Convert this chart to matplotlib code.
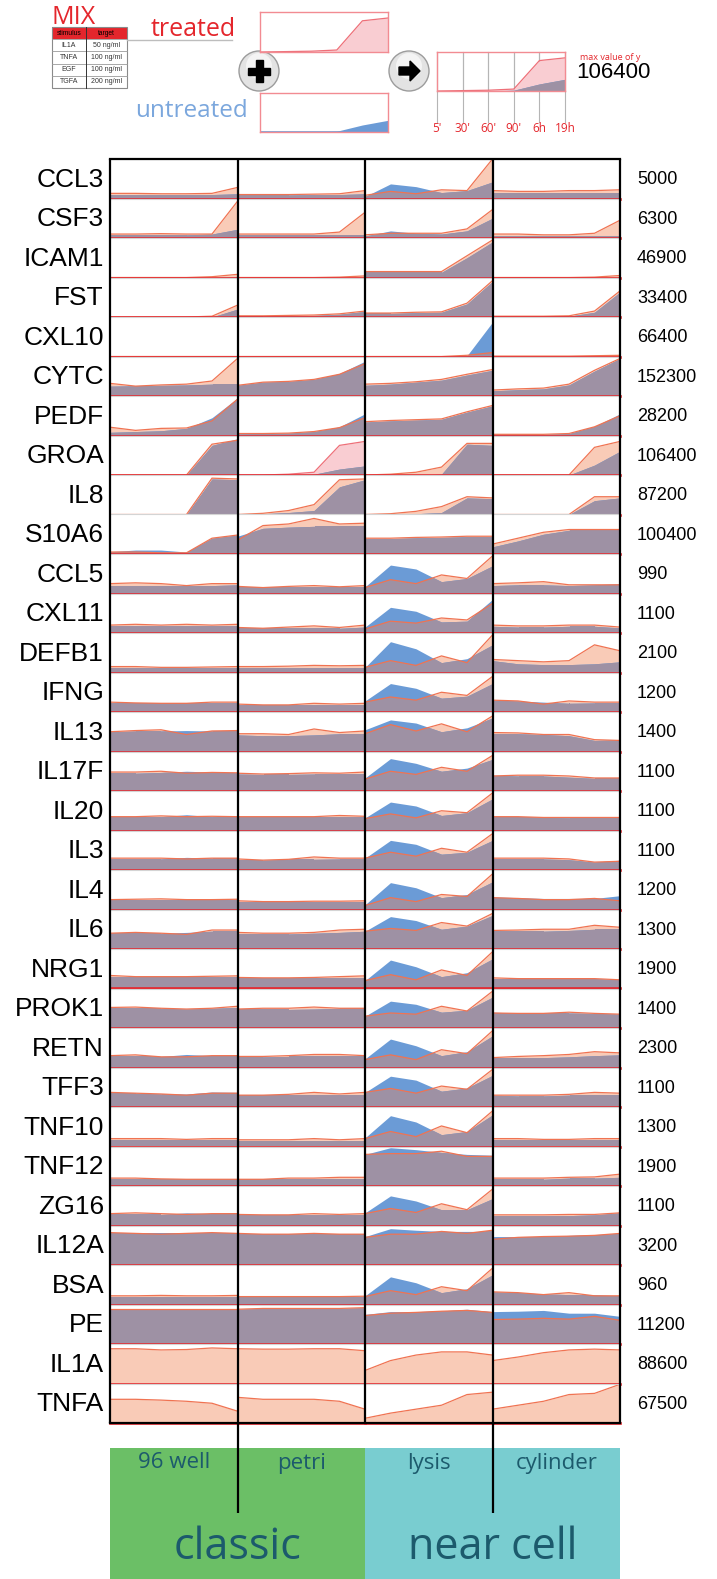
import matplotlib.pyplot as plt
import numpy as np
from matplotlib.patches import Polygon, Rectangle, Circle

W, H = 717, 1579

genes = ["CCL3", "CSF3", "ICAM1", "FST", "CXL10", "CYTC", "PEDF", "GROA", "IL8", "S10A6",
         "CCL5", "CXL11", "DEFB1", "IFNG", "IL13", "IL17F", "IL20", "IL3", "IL4", "IL6",
         "NRG1", "PROK1", "RETN", "TFF3", "TNF10", "TNF12", "ZG16", "IL12A", "BSA", "PE",
         "IL1A", "TNFA"]
max_vals = [5000, 6300, 46900, 33400, 66400, 152300, 28200, 106400, 87200, 100400,
            990, 1100, 2100, 1200, 1400, 1100, 1100, 1100, 1200, 1300,
            1900, 1400, 2300, 1100, 1300, 1900, 1100, 3200, 960, 11200,
            88600, 67500]
times = ["5'", "30'", "60'", "90'", "6h", "19h"]
conditions = ["96 well", "petri", "lysis", "cylinder"]
groups = ["classic", "near cell"]
mix_stimulus = ["IL1A", "TNFA", "EGF", "TGFA"]
mix_target = ["50 ng/ml", "100 ng/ml", "100 ng/ml", "200 ng/ml"]

# values as fraction of each row's max value
treated_96well = [
    [0.13, 0.13, 0.12, 0.12, 0.13, 0.28], [0.10, 0.10, 0.11, 0.10, 0.10, 0.93],
    [0.00, 0.00, 0.00, 0.00, 0.02, 0.08], [0.00, 0.00, 0.00, 0.00, 0.02, 0.30],
    [0.01, 0.01, 0.01, 0.01, 0.01, 0.01], [0.32, 0.25, 0.28, 0.30, 0.38, 0.95],
    [0.21, 0.13, 0.18, 0.19, 0.37, 0.92], [0.00, 0.00, 0.00, 0.00, 0.78, 0.88],
    [0.00, 0.00, 0.00, 0.00, 0.92, 0.90], [0.05, 0.05, 0.03, 0.03, 0.40, 0.48],
    [0.25, 0.27, 0.25, 0.20, 0.25, 0.25], [0.20, 0.22, 0.20, 0.22, 0.20, 0.22],
    [0.15, 0.15, 0.13, 0.13, 0.14, 0.15], [0.25, 0.23, 0.22, 0.22, 0.25, 0.25],
    [0.50, 0.53, 0.55, 0.43, 0.52, 0.53], [0.48, 0.48, 0.50, 0.45, 0.47, 0.46],
    [0.35, 0.35, 0.37, 0.35, 0.36, 0.35], [0.30, 0.30, 0.30, 0.28, 0.30, 0.30],
    [0.25, 0.26, 0.27, 0.25, 0.25, 0.26], [0.40, 0.42, 0.40, 0.37, 0.48, 0.48],
    [0.33, 0.30, 0.30, 0.30, 0.31, 0.32], [0.52, 0.53, 0.50, 0.48, 0.50, 0.55],
    [0.30, 0.32, 0.27, 0.27, 0.30, 0.30], [0.37, 0.35, 0.33, 0.30, 0.35, 0.35],
    [0.20, 0.20, 0.20, 0.18, 0.20, 0.20], [0.20, 0.20, 0.18, 0.17, 0.17, 0.17],
    [0.30, 0.32, 0.30, 0.28, 0.30, 0.30], [0.82, 0.80, 0.78, 0.80, 0.82, 0.80],
    [0.22, 0.22, 0.23, 0.22, 0.22, 0.23], [0.88, 0.88, 0.88, 0.88, 0.88, 0.88],
    [0.88, 0.88, 0.85, 0.86, 0.90, 0.88], [0.60, 0.60, 0.58, 0.55, 0.50, 0.30]]
untreated_96well = [
    [0.10, 0.10, 0.10, 0.10, 0.10, 0.12], [0.08, 0.08, 0.08, 0.08, 0.10, 0.22],
    [0.00, 0.00, 0.00, 0.00, 0.00, 0.02], [0.00, 0.00, 0.00, 0.00, 0.00, 0.20],
    [0.00, 0.00, 0.00, 0.00, 0.00, 0.00], [0.25, 0.26, 0.27, 0.28, 0.30, 0.30],
    [0.08, 0.10, 0.12, 0.18, 0.45, 0.95], [0.00, 0.00, 0.00, 0.00, 0.75, 0.92],
    [0.00, 0.00, 0.00, 0.00, 0.90, 0.88], [0.06, 0.10, 0.10, 0.05, 0.40, 0.48],
    [0.20, 0.20, 0.20, 0.20, 0.20, 0.22], [0.18, 0.18, 0.18, 0.18, 0.18, 0.18],
    [0.12, 0.12, 0.12, 0.12, 0.12, 0.12], [0.22, 0.22, 0.22, 0.22, 0.22, 0.22],
    [0.50, 0.52, 0.52, 0.53, 0.52, 0.52], [0.45, 0.45, 0.47, 0.50, 0.48, 0.46],
    [0.35, 0.35, 0.35, 0.40, 0.35, 0.35], [0.28, 0.28, 0.28, 0.32, 0.30, 0.30],
    [0.24, 0.24, 0.24, 0.24, 0.24, 0.24], [0.40, 0.40, 0.40, 0.42, 0.45, 0.45],
    [0.30, 0.30, 0.30, 0.30, 0.30, 0.30], [0.50, 0.50, 0.50, 0.48, 0.50, 0.52],
    [0.28, 0.28, 0.28, 0.33, 0.30, 0.30], [0.35, 0.35, 0.33, 0.33, 0.38, 0.37],
    [0.17, 0.17, 0.17, 0.17, 0.17, 0.17], [0.17, 0.17, 0.17, 0.17, 0.17, 0.17],
    [0.28, 0.28, 0.28, 0.32, 0.30, 0.32], [0.80, 0.80, 0.80, 0.80, 0.80, 0.80],
    [0.20, 0.20, 0.20, 0.20, 0.20, 0.20], [0.88, 0.88, 0.88, 0.88, 0.88, 0.88],
    [0.00, 0.00, 0.00, 0.00, 0.00, 0.00], [0.00, 0.00, 0.00, 0.00, 0.00, 0.00]]
treated_petri = [
    [0.10, 0.10, 0.10, 0.11, 0.12, 0.20], [0.10, 0.10, 0.10, 0.10, 0.15, 0.65],
    [0.00, 0.00, 0.00, 0.00, 0.01, 0.04], [0.03, 0.03, 0.04, 0.05, 0.08, 0.15],
    [0.01, 0.01, 0.01, 0.01, 0.01, 0.01], [0.27, 0.35, 0.37, 0.42, 0.55, 0.82],
    [0.05, 0.05, 0.06, 0.10, 0.20, 0.45], [0.00, 0.00, 0.02, 0.07, 0.75, 0.85],
    [0.00, 0.03, 0.10, 0.25, 0.88, 0.90], [0.35, 0.72, 0.76, 0.90, 0.76, 0.78],
    [0.18, 0.15, 0.18, 0.20, 0.17, 0.20], [0.14, 0.12, 0.15, 0.18, 0.14, 0.20],
    [0.15, 0.15, 0.16, 0.18, 0.17, 0.18], [0.20, 0.18, 0.18, 0.22, 0.20, 0.22],
    [0.45, 0.45, 0.43, 0.57, 0.48, 0.52], [0.45, 0.43, 0.44, 0.46, 0.45, 0.48],
    [0.35, 0.35, 0.35, 0.35, 0.38, 0.36], [0.28, 0.25, 0.27, 0.33, 0.30, 0.30],
    [0.22, 0.20, 0.20, 0.21, 0.21, 0.22], [0.42, 0.40, 0.40, 0.42, 0.48, 0.50],
    [0.28, 0.27, 0.27, 0.28, 0.30, 0.32], [0.48, 0.50, 0.50, 0.53, 0.50, 0.50],
    [0.28, 0.28, 0.30, 0.33, 0.33, 0.30], [0.30, 0.30, 0.32, 0.37, 0.33, 0.37],
    [0.17, 0.17, 0.17, 0.20, 0.17, 0.20], [0.17, 0.17, 0.20, 0.20, 0.22, 0.22],
    [0.28, 0.27, 0.27, 0.30, 0.28, 0.30], [0.80, 0.78, 0.78, 0.80, 0.78, 0.78],
    [0.20, 0.20, 0.20, 0.20, 0.20, 0.21], [0.88, 0.90, 0.90, 0.90, 0.90, 0.92],
    [0.88, 0.87, 0.87, 0.88, 0.88, 0.83], [0.65, 0.60, 0.60, 0.60, 0.55, 0.35]]
untreated_petri = [
    [0.09, 0.09, 0.09, 0.10, 0.10, 0.12], [0.08, 0.08, 0.08, 0.08, 0.08, 0.08],
    [0.00, 0.00, 0.00, 0.00, 0.00, 0.00], [0.02, 0.02, 0.03, 0.04, 0.07, 0.14],
    [0.00, 0.00, 0.00, 0.00, 0.00, 0.00], [0.27, 0.35, 0.37, 0.42, 0.57, 0.88],
    [0.04, 0.05, 0.06, 0.10, 0.22, 0.55], [0.00, 0.00, 0.00, 0.02, 0.15, 0.23],
    [0.00, 0.02, 0.05, 0.10, 0.70, 0.88], [0.45, 0.65, 0.68, 0.70, 0.70, 0.70],
    [0.17, 0.17, 0.17, 0.17, 0.17, 0.17], [0.12, 0.12, 0.12, 0.12, 0.12, 0.15],
    [0.12, 0.12, 0.12, 0.12, 0.12, 0.12], [0.18, 0.18, 0.18, 0.18, 0.18, 0.18],
    [0.42, 0.40, 0.40, 0.42, 0.45, 0.45], [0.43, 0.42, 0.42, 0.43, 0.43, 0.43],
    [0.33, 0.33, 0.33, 0.33, 0.33, 0.33], [0.25, 0.25, 0.27, 0.27, 0.28, 0.28],
    [0.20, 0.20, 0.20, 0.20, 0.20, 0.20], [0.38, 0.38, 0.38, 0.40, 0.42, 0.45],
    [0.27, 0.27, 0.27, 0.27, 0.27, 0.27], [0.47, 0.47, 0.47, 0.48, 0.50, 0.50],
    [0.27, 0.27, 0.28, 0.28, 0.28, 0.28], [0.30, 0.30, 0.30, 0.30, 0.30, 0.30],
    [0.15, 0.15, 0.15, 0.15, 0.15, 0.15], [0.17, 0.17, 0.17, 0.17, 0.17, 0.17],
    [0.27, 0.27, 0.27, 0.27, 0.27, 0.27], [0.78, 0.78, 0.78, 0.78, 0.78, 0.78],
    [0.20, 0.20, 0.20, 0.20, 0.20, 0.20], [0.88, 0.90, 0.90, 0.90, 0.90, 0.92],
    [0.00, 0.00, 0.00, 0.00, 0.00, 0.00], [0.00, 0.00, 0.00, 0.00, 0.00, 0.00]]
treated_lysis = [
    [0.08, 0.18, 0.12, 0.22, 0.20, 1.00], [0.08, 0.12, 0.12, 0.12, 0.23, 0.72],
    [0.15, 0.15, 0.15, 0.15, 0.55, 0.95], [0.10, 0.10, 0.12, 0.13, 0.35, 0.92],
    [0.00, 0.00, 0.00, 0.00, 0.03, 0.10], [0.30, 0.32, 0.36, 0.42, 0.55, 0.67],
    [0.35, 0.38, 0.40, 0.42, 0.60, 0.76], [0.00, 0.02, 0.07, 0.20, 0.80, 0.80],
    [0.00, 0.02, 0.08, 0.20, 0.45, 0.42], [0.40, 0.40, 0.42, 0.43, 0.45, 0.45],
    [0.15, 0.35, 0.25, 0.47, 0.38, 0.95], [0.10, 0.30, 0.25, 0.38, 0.33, 0.75],
    [0.13, 0.30, 0.18, 0.42, 0.25, 0.95], [0.25, 0.38, 0.30, 0.50, 0.42, 0.90],
    [0.45, 0.68, 0.52, 0.70, 0.50, 0.90], [0.30, 0.50, 0.42, 0.60, 0.50, 0.90],
    [0.30, 0.42, 0.32, 0.50, 0.45, 0.95], [0.30, 0.45, 0.35, 0.55, 0.45, 0.92],
    [0.10, 0.30, 0.20, 0.38, 0.33, 0.90], [0.45, 0.52, 0.47, 0.67, 0.58, 0.90],
    [0.20, 0.35, 0.22, 0.47, 0.33, 0.93], [0.30, 0.38, 0.35, 0.55, 0.43, 0.93],
    [0.20, 0.32, 0.20, 0.45, 0.35, 0.93], [0.37, 0.47, 0.35, 0.53, 0.45, 0.95],
    [0.20, 0.38, 0.25, 0.52, 0.35, 0.90], [0.80, 0.82, 0.82, 0.88, 0.75, 0.75],
    [0.30, 0.43, 0.33, 0.55, 0.40, 0.92], [0.70, 0.78, 0.78, 0.85, 0.80, 0.88],
    [0.20, 0.35, 0.25, 0.45, 0.35, 0.92], [0.72, 0.78, 0.80, 0.83, 0.85, 0.80],
    [0.33, 0.58, 0.72, 0.80, 0.80, 0.72], [0.12, 0.25, 0.35, 0.45, 0.72, 0.78]]
untreated_lysis = [
    [0.05, 0.37, 0.30, 0.15, 0.20, 0.42], [0.05, 0.18, 0.12, 0.10, 0.18, 0.50],
    [0.13, 0.13, 0.13, 0.13, 0.50, 0.90], [0.09, 0.09, 0.11, 0.12, 0.33, 0.90],
    [0.00, 0.00, 0.00, 0.00, 0.02, 0.87], [0.27, 0.30, 0.35, 0.40, 0.53, 0.65],
    [0.34, 0.37, 0.39, 0.41, 0.59, 0.75], [0.00, 0.00, 0.00, 0.02, 0.78, 0.75],
    [0.00, 0.00, 0.02, 0.05, 0.42, 0.40], [0.39, 0.39, 0.41, 0.42, 0.44, 0.44],
    [0.17, 0.72, 0.62, 0.30, 0.38, 0.70], [0.15, 0.65, 0.55, 0.28, 0.30, 0.85],
    [0.13, 0.78, 0.60, 0.25, 0.35, 0.70], [0.28, 0.72, 0.60, 0.35, 0.40, 0.72],
    [0.55, 0.80, 0.72, 0.50, 0.60, 0.85], [0.33, 0.82, 0.70, 0.50, 0.58, 0.80],
    [0.32, 0.72, 0.62, 0.38, 0.45, 0.80], [0.30, 0.75, 0.65, 0.40, 0.45, 0.75],
    [0.12, 0.68, 0.55, 0.30, 0.38, 0.70], [0.45, 0.82, 0.72, 0.50, 0.58, 0.85],
    [0.20, 0.72, 0.55, 0.30, 0.40, 0.75], [0.30, 0.68, 0.60, 0.40, 0.45, 0.78],
    [0.22, 0.72, 0.55, 0.30, 0.40, 0.80], [0.37, 0.78, 0.68, 0.40, 0.48, 0.80],
    [0.22, 0.78, 0.62, 0.30, 0.38, 0.80], [0.80, 0.97, 0.92, 0.85, 0.80, 0.78],
    [0.32, 0.75, 0.62, 0.40, 0.40, 0.68], [0.72, 0.92, 0.88, 0.85, 0.85, 0.85],
    [0.22, 0.70, 0.55, 0.30, 0.40, 0.75], [0.75, 0.82, 0.82, 0.84, 0.88, 0.82],
    [0.00, 0.00, 0.00, 0.00, 0.00, 0.00], [0.00, 0.00, 0.00, 0.00, 0.00, 0.00]]
treated_cylinder = [
    [0.20, 0.18, 0.18, 0.20, 0.20, 0.22], [0.10, 0.10, 0.08, 0.08, 0.12, 0.45],
    [0.00, 0.00, 0.00, 0.00, 0.01, 0.05], [0.02, 0.02, 0.02, 0.03, 0.15, 0.66],
    [0.01, 0.01, 0.01, 0.01, 0.02, 0.03], [0.15, 0.18, 0.20, 0.30, 0.65, 0.95],
    [0.03, 0.03, 0.03, 0.05, 0.22, 0.50], [0.00, 0.00, 0.00, 0.00, 0.70, 0.85],
    [0.00, 0.00, 0.00, 0.00, 0.45, 0.45], [0.25, 0.40, 0.55, 0.62, 0.62, 0.62],
    [0.25, 0.27, 0.30, 0.22, 0.22, 0.22], [0.20, 0.18, 0.18, 0.20, 0.20, 0.15],
    [0.33, 0.30, 0.27, 0.30, 0.70, 0.55], [0.30, 0.28, 0.20, 0.28, 0.25, 0.25],
    [0.48, 0.47, 0.43, 0.43, 0.30, 0.28], [0.38, 0.40, 0.40, 0.38, 0.33, 0.33],
    [0.35, 0.35, 0.33, 0.33, 0.33, 0.33], [0.30, 0.30, 0.30, 0.28, 0.20, 0.22],
    [0.30, 0.28, 0.25, 0.25, 0.28, 0.22], [0.47, 0.48, 0.50, 0.50, 0.60, 0.55],
    [0.27, 0.25, 0.25, 0.25, 0.25, 0.22], [0.38, 0.37, 0.37, 0.40, 0.37, 0.35],
    [0.25, 0.28, 0.30, 0.33, 0.40, 0.37], [0.30, 0.30, 0.30, 0.32, 0.37, 0.35],
    [0.20, 0.20, 0.18, 0.18, 0.20, 0.20], [0.20, 0.20, 0.20, 0.22, 0.23, 0.30],
    [0.27, 0.27, 0.27, 0.28, 0.28, 0.32], [0.65, 0.70, 0.72, 0.73, 0.75, 0.80],
    [0.32, 0.30, 0.25, 0.30, 0.22, 0.22], [0.62, 0.63, 0.65, 0.63, 0.70, 0.60],
    [0.58, 0.67, 0.78, 0.85, 0.87, 0.85], [0.35, 0.45, 0.55, 0.72, 0.75, 0.98]]
untreated_cylinder = [
    [0.15, 0.15, 0.15, 0.15, 0.15, 0.15], [0.06, 0.06, 0.06, 0.06, 0.06, 0.06],
    [0.00, 0.00, 0.00, 0.00, 0.00, 0.00], [0.02, 0.02, 0.02, 0.02, 0.12, 0.63],
    [0.00, 0.00, 0.00, 0.00, 0.00, 0.00], [0.13, 0.16, 0.18, 0.28, 0.63, 0.95],
    [0.03, 0.03, 0.03, 0.05, 0.23, 0.55], [0.00, 0.00, 0.00, 0.00, 0.25, 0.60],
    [0.00, 0.00, 0.00, 0.00, 0.35, 0.42], [0.18, 0.33, 0.50, 0.60, 0.60, 0.60],
    [0.20, 0.22, 0.22, 0.20, 0.22, 0.25], [0.17, 0.15, 0.15, 0.17, 0.17, 0.13],
    [0.30, 0.22, 0.20, 0.20, 0.22, 0.27], [0.30, 0.28, 0.25, 0.22, 0.23, 0.23],
    [0.45, 0.45, 0.43, 0.40, 0.28, 0.30], [0.40, 0.38, 0.38, 0.35, 0.32, 0.32],
    [0.33, 0.33, 0.33, 0.32, 0.32, 0.32], [0.28, 0.28, 0.28, 0.26, 0.20, 0.25],
    [0.32, 0.30, 0.28, 0.28, 0.28, 0.35], [0.45, 0.45, 0.45, 0.47, 0.50, 0.50],
    [0.25, 0.25, 0.25, 0.25, 0.25, 0.22], [0.40, 0.38, 0.38, 0.38, 0.37, 0.35],
    [0.25, 0.25, 0.25, 0.27, 0.30, 0.32], [0.30, 0.28, 0.28, 0.30, 0.30, 0.30],
    [0.17, 0.17, 0.17, 0.17, 0.17, 0.17], [0.17, 0.17, 0.17, 0.20, 0.20, 0.22],
    [0.25, 0.25, 0.25, 0.25, 0.27, 0.32], [0.72, 0.72, 0.72, 0.75, 0.77, 0.80],
    [0.32, 0.30, 0.27, 0.25, 0.25, 0.22], [0.82, 0.83, 0.85, 0.78, 0.78, 0.70],
    [0.00, 0.00, 0.00, 0.00, 0.00, 0.00], [0.00, 0.00, 0.00, 0.00, 0.00, 0.00]]

# the GROA / petri example used in the legend
legend_treated = [0.00, 0.01, 0.02, 0.05, 0.78, 0.85]
legend_untreated = [0.00, 0.00, 0.00, 0.02, 0.18, 0.30]

treated = [treated_96well, treated_petri, treated_lysis, treated_cylinder]
untreated = [untreated_96well, untreated_petri, untreated_lysis, untreated_cylinder]

SALMON = "#f9cbb7"
LINE = "#f07352"
BLUE = "#6b9bd6"
OVER = "#9e91a4"
PINK = "#f9cdd2"
PINKLINE = "#ee6f78"
RED = "#e4262c"
TEAL_TXT = "#1c5a6c"

fig = plt.figure(figsize=(W / 100, H / 100), dpi=100)
bg = fig.add_axes([0, 0, 1, 1])
bg.set_xlim(0, W)
bg.set_ylim(H, 0)
bg.axis("off")


def px_axes(x0, y0, w, h, z=2):
    return fig.add_axes([x0 / W, 1 - (y0 + h) / H, w / W, h / H], zorder=z)


def spark(ax, t, u, fill=SALMON, line=LINE, lw=0.9):
    x = np.arange(len(t))
    t = np.asarray(t)
    u = np.asarray(u)
    ax.fill_between(x, 0, t, color=fill, lw=0)
    ax.fill_between(x, 0, u, color=BLUE, lw=0)
    ov = ax.fill_between(x, 0, u, color=OVER, lw=0)
    clip = Polygon(np.column_stack([np.r_[x, x[::-1]], np.r_[t, np.zeros(len(t))]]),
                   closed=True, transform=ax.transData)
    ov.set_clip_path(clip)
    ax.plot(x, t, color=line, lw=lw, solid_joinstyle="miter")
    ax.set_xlim(0, len(t) - 1)
    ax.set_ylim(0, 1)
    ax.set_xticks([])
    ax.set_yticks([])


# ---- grid of sparklines
col_x = [110, 237.5, 365, 492.5, 620]
top, row_h = 159, 39.5
for r, g in enumerate(genes):
    y0 = top + r * row_h
    for c in range(4):
        ax = px_axes(col_x[c], y0, col_x[c + 1] - col_x[c], row_h)
        if g == "GROA" and c == 1:
            spark(ax, treated[c][r], untreated[c][r], fill=PINK, line=PINKLINE)
        else:
            spark(ax, treated[c][r], untreated[c][r])
        for s in ax.spines.values():
            s.set_visible(False)
        ax.spines["bottom"].set_visible(True)
        ax.spines["bottom"].set_color(RED)
        ax.spines["bottom"].set_linewidth(1.9)
        ax.spines["top"].set_visible(True)
        ax.spines["top"].set_color("#d4d4d4")
        ax.spines["top"].set_linewidth(0.8)
    yc = y0 + row_h / 2 + 1
    bg.text(104, yc, g, ha="right", va="center", fontsize=19,
            family="Liberation Sans", color="black")
    bg.text(637, yc, str(max_vals[r]), ha="left", va="center", fontsize=13,
            family="Liberation Sans", color="black")

# frame lines on top of the cells
fg = fig.add_axes([0, 0, 1, 1], zorder=10)
fg.set_xlim(0, W)
fg.set_ylim(H, 0)
fg.axis("off")
bottom = top + len(genes) * row_h
for i, xv in enumerate(col_x):
    y_end = 1513 if i in (1, 3) else bottom
    fg.plot([xv, xv], [top, y_end], color="black", lw=1.6, solid_capstyle="butt")
fg.plot([col_x[0], col_x[-1]], [top, top], color="black", lw=1.6)
fg.plot([col_x[0], col_x[-1]], [bottom, bottom], color="black", lw=1.6)

# ---- condition boxes at the bottom
bg.add_patch(Rectangle((col_x[0], 1448), col_x[2] - col_x[0], H - 1448, color="#6bbf66", lw=0))
bg.add_patch(Rectangle((col_x[2], 1448), col_x[4] - col_x[2], H - 1448, color="#79cdd0", lw=0))
for c, name in enumerate(conditions):
    bg.text((col_x[c] + col_x[c + 1]) / 2, 1463, name, ha="center", va="center",
            fontsize=16, family="Open Sans", color=TEAL_TXT)
for k, name in enumerate(groups):
    bg.text(col_x[2 * k + 1], 1548, name, ha="center", va="center",
            fontsize=31, family="Open Sans", color=TEAL_TXT)

# ---- legend at the top
bg.text(51, 17, "MIX", ha="left", va="center", fontsize=18, family="Open Sans", color=RED)
tx0, tx1, tsplit = 52, 127, 86
trow = 12.2
bg.add_patch(Rectangle((tx0, 27), tx1 - tx0, trow, color=RED, lw=0))
bg.add_patch(Rectangle((tx0, 27), tx1 - tx0, trow * 5, fill=False, ec="#8a8a8a", lw=0.8))
for i in range(1, 5):
    bg.plot([tx0, tx1], [27 + i * trow, 27 + i * trow], color="#9a9a9a", lw=0.6)
bg.plot([tsplit, tsplit], [27, 27 + 5 * trow], color="#333333", lw=0.7)
bg.text((tx0 + tsplit) / 2, 27 + trow / 2, "stimulus", ha="center", va="center",
        fontsize=4.8, family="Liberation Sans", color="black")
bg.text((tsplit + tx1) / 2, 27 + trow / 2, "target", ha="center", va="center",
        fontsize=4.8, family="Liberation Sans", color="black")
for i, (s, t) in enumerate(zip(mix_stimulus, mix_target)):
    yy = 27 + (i + 1.5) * trow
    bg.text((tx0 + tsplit) / 2, yy, s, ha="center", va="center", fontsize=5,
            family="Liberation Sans", color="#333333")
    bg.text((tsplit + tx1) / 2, yy, t, ha="center", va="center", fontsize=5,
            family="Liberation Sans", color="#333333")
bg.plot([tx1, 232], [40, 40], color="#bdbdbd", lw=1)
bg.text(151, 30, "treated", ha="left", va="center", fontsize=18, family="Open Sans", color=RED)
bg.text(248, 111, "untreated", ha="right", va="center", fontsize=17.5, family="Open Sans",
        color="#7ba7dd")

panel_edge = "#f28b92"
ax_t = px_axes(260, 12, 128, 40)
spark(ax_t, legend_treated, [0, 0, 0, 0, 0, 0], fill=PINK, line=PINKLINE)
ax_u = px_axes(260, 93, 128, 39)
spark(ax_u, [0, 0, 0, 0, 0, 0], legend_untreated, line=BLUE, lw=1.2)
ax_r = px_axes(437, 52, 128, 39)
spark(ax_r, legend_treated, legend_untreated, fill=PINK, line=PINKLINE)
for a in (ax_t, ax_u, ax_r):
    for s in a.spines.values():
        s.set_color(panel_edge)
        s.set_linewidth(1)

# time guide lines and labels below the result panel
for i, lab in enumerate(times):
    xv = 437 + i * 128 / 5
    bg.plot([xv, xv], [52, 122], color="#b5b5b5", lw=0.8)
    bg.text(xv, 128, lab, ha="center", va="center", fontsize=8.5,
            family="Open Sans", color=RED)
ax_r.patch.set_alpha(0)
for i in range(1, 5):
    ax_r.axvline(i, color="#b5b5b5", lw=0.8, zorder=0)

bg.text(580, 57, "max value of y", ha="left", va="center", fontsize=6.5,
        family="Open Sans", color=RED)
bg.text(576, 72, "106400", ha="left", va="center", fontsize=16,
        family="Liberation Sans", color="black")

# round buttons
for cx, kind in ((259, "plus"), (409, "arrow")):
    bg.add_patch(Circle((cx, 71), 20, fc="#e3e3e3", ec="#9c9c9c", lw=1, zorder=5))
    bg.add_patch(Circle((cx, 66), 13, fc="#f4f4f4", ec="none", zorder=5))
    if kind == "plus":
        bg.add_patch(Rectangle((cx - 11, 71 - 3.5), 22, 7, color="black", zorder=6))
        bg.add_patch(Rectangle((cx - 3.5, 71 - 11), 7, 22, color="black", zorder=6))
    else:
        arrow = [(cx - 10, 67), (cx + 1, 67), (cx + 1, 61), (cx + 11, 71),
                 (cx + 1, 81), (cx + 1, 75), (cx - 10, 75)]
        bg.add_patch(Polygon(arrow, closed=True, color="black", zorder=6))

fig.savefig("out.png", dpi=100)
